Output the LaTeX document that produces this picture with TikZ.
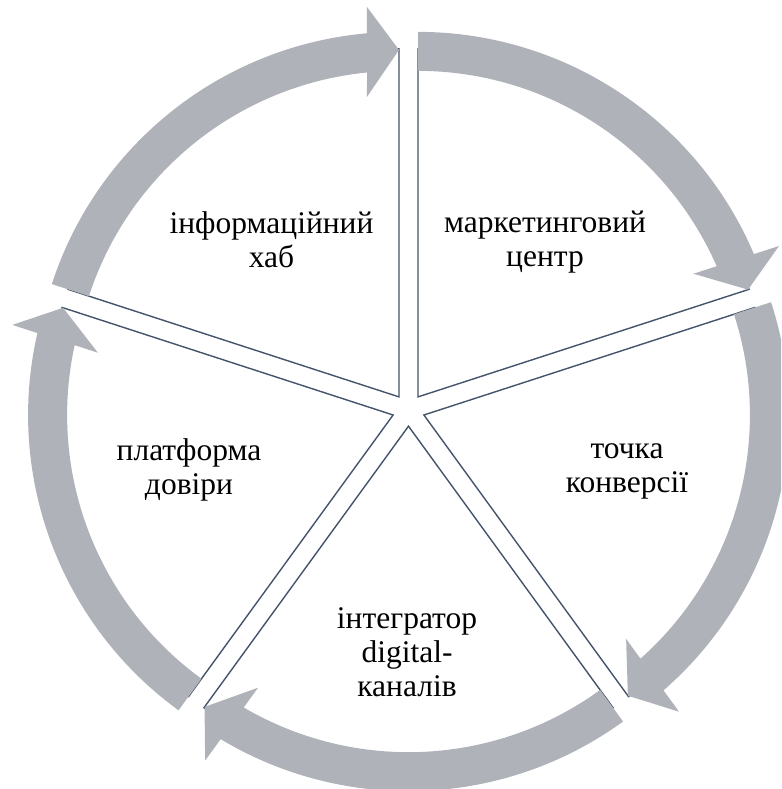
\documentclass[tikz,border=0pt]{standalone}
\usepackage{fontspec}
\setmainfont{Liberation Serif}
\newfontfamily\lblfont{Liberation Serif}
\usetikzlibrary{calc}
\definecolor{arrowgray}{RGB}{175,178,185}
\definecolor{edgeblue}{RGB}{68,84,106}
\tikzset{
  slicebox/.style={draw=edgeblue, line width=1.4pt, fill=white, line join=miter},
  arrowband/.style={fill=arrowgray, draw=none},
  lbl/.style={font=\lblfont\fontsize{31.5}{34}\selectfont, align=center, anchor=base, inner sep=0pt, text=black}
}
\begin{document}
\begin{tikzpicture}[x=1pt,y=1pt]
\useasboundingbox (0,0) rectangle (781,789);
\clip (0,0) rectangle (781,789);
\coordinate (C) at (408.5,379);
% slices
\foreach \b/\nm in {54/tr,-18/r,-90/bt,-162/l,126/tl}{
  \pgfmathsetmacro{\s}{\b+36}
  \pgfmathsetmacro{\e}{\b-36}
  \coordinate (V\nm) at ($(C)+(\b:16.2pt)$);
  \draw[slicebox, shift={(V\nm)}] (0,0) -- (\s:348pt) arc[start angle=\s, end angle=\e, radius=348pt] -- cycle;
}
% arrows
\foreach \b/\nm in {54/tr,-18/r,-90/bt,-162/l,126/tl}{
  \pgfmathsetmacro{\s}{\b+36}
  \pgfmathsetmacro{\e}{\b-36}
  \pgfmathsetmacro{\ia}{\e+5.63}
  \pgfmathsetmacro{\ib}{\e+6.09}
  \pgfmathsetmacro{\oa}{\e+5.03}
  \pgfmathsetmacro{\ob}{\e+4.69}
  \fill[arrowband, shift={(V\nm)}] (\s:326pt) arc[start angle=\s, end angle=\ia, radius=326pt]
     -- (\ib:301.7pt) -- (\e:347pt) -- (\ob:391.3pt) -- (\oa:365pt)
     arc[start angle=\oa, end angle=\s, radius=365pt] -- cycle;
}
% labels (anchor = baseline of last line)
\node[lbl] (ttl) at (271.5,521) {інформаційний\\хаб};
\node[lbl] (ttr) at (545,522) {маркетинговий\\центр};
\node[lbl] (tl) at (189,294) {платформа\\довіри};
\node[lbl] (tr) at (627,296) {точка\\конверсії};
\node[lbl] (tb) at (407,92) {інтегратор\\digital-\\каналів};
\end{tikzpicture}
\end{document}
